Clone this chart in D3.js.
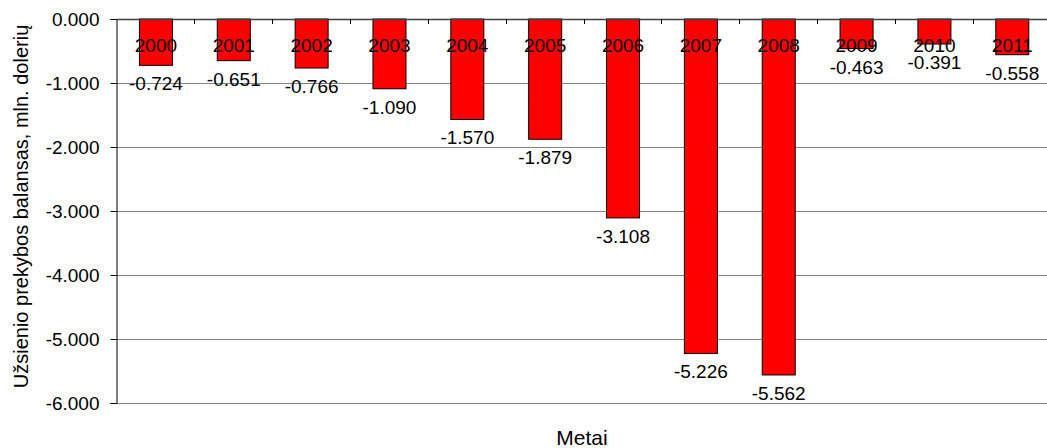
<!DOCTYPE html>
<html>
<head>
<meta charset="utf-8">
<script src="https://cdn.jsdelivr.net/npm/d3@7"></script>
<style>
  html, body { margin: 0; padding: 0; background: #fff; }
  svg { display: block; font-family: "Liberation Sans", Arial, sans-serif; }
</style>
</head>
<body>
<svg id="chart" width="1047" height="448"></svg>
<script>
const years = ["2000","2001","2002","2003","2004","2005","2006","2007","2008","2009","2010","2011"];
const balance = [-724, -651, -766, -1090, -1570, -1879, -3108, -5226, -5562, -463, -391, -558];
const yTicks = [0, -1000, -2000, -3000, -4000, -5000, -6000];
const yTitle = "Užsienio prekybos balansas, mln. dolerių";
const xTitle = "Metai";

const svg = d3.select("#chart");
const pLeft = 116.5, pTop = 19, pBottom = 403, pRight = 1050.7;

const x = d3.scaleBand().domain(years).range([pLeft, pRight]).paddingInner(0.576).paddingOuter(0.288);
const y = d3.scaleLinear().domain([-6000, 0]).range([pBottom, pTop]);
const fmt = v => d3.format(".3f")(v / 1000).replace("−", "-");

// gridlines
svg.append("g").selectAll("line").data(yTicks.filter(d => d !== 0)).join("line")
  .attr("x1", pLeft).attr("x2", 1047)
  .attr("y1", d => Math.round(y(d)) + 0.5).attr("y2", d => Math.round(y(d)) + 0.5)
  .attr("stroke", "#858585").attr("stroke-width", 1);

// bars
svg.append("g").selectAll("rect").data(years).join("rect")
  .attr("x", d => x(d) + 0.5)
  .attr("y", y(0))
  .attr("width", x.bandwidth())
  .attr("height", (d, i) => y(balance[i]) - y(0))
  .attr("fill", "#ff0000").attr("stroke", "#000").attr("stroke-width", 1);

// y axis
const yAxis = d3.axisLeft(y).tickValues(yTicks).tickSize(6).tickPadding(11).tickFormat(fmt);
const gy = svg.append("g").attr("transform", `translate(${pLeft},0)`).call(yAxis);
gy.select(".domain").attr("stroke", "#000");
gy.selectAll(".tick line").attr("stroke", "#000");
gy.selectAll(".tick text").attr("font-size", 19).attr("fill", "#000")
  .attr("font-family", '"Liberation Sans", Arial, sans-serif').attr("dy", "0.34em");

// category axis at zero
const boundaries = d3.range(1, years.length + 1).map(i => pLeft + i * x.step());
svg.append("line").attr("x1", pLeft).attr("x2", 1047).attr("y1", y(0) + 0.5).attr("y2", y(0) + 0.5)
  .attr("stroke", "#404040").attr("stroke-width", 1.5);
svg.append("g").selectAll("line").data(boundaries).join("line")
  .attr("x1", d => Math.round(d) + 0.5).attr("x2", d => Math.round(d) + 0.5)
  .attr("y1", y(0)).attr("y2", y(0) + 5).attr("stroke", "#000");

// year labels
svg.append("g").selectAll("text").data(years).join("text")
  .attr("x", d => x(d) + x.bandwidth() / 2 + 0.5)
  .attr("y", y(0) + 33)
  .attr("text-anchor", "middle").attr("font-size", 19).attr("fill", "#000")
  .text(d => d);

// value labels
svg.append("g").selectAll("text").data(years).join("text")
  .attr("x", d => x(d) + x.bandwidth() / 2 + 0.5)
  .attr("y", (d, i) => y(balance[i]) + 25)
  .attr("text-anchor", "middle").attr("font-size", 19).attr("fill", "#000")
  .text((d, i) => fmt(balance[i]));

// titles
svg.append("text").attr("transform", "translate(28,206.5) rotate(-90)")
  .attr("text-anchor", "middle").attr("font-size", 20).attr("fill", "#000").text(yTitle);
svg.append("text").attr("x", 582).attr("y", 445)
  .attr("text-anchor", "middle").attr("font-size", 21).attr("fill", "#000").text(xTitle);
</script>
</body>
</html>
